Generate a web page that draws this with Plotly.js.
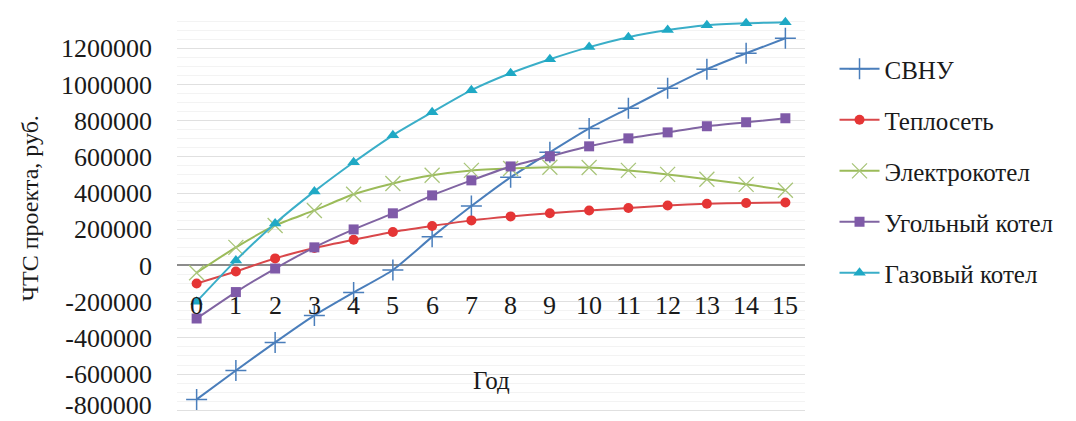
<!DOCTYPE html>
<html>
<head>
<meta charset="utf-8">
<script src="https://cdn.plot.ly/plotly-3.0.1.min.js"></script>
<style>
  html, body { margin: 0; padding: 0; background: #ffffff; }
  #chart { width: 1076px; height: 421px; }
</style>
</head>
<body>
<div id="chart"></div>
<script>
// ---- Data ----
var years = [0, 1, 2, 3, 4, 5, 6, 7, 8, 9, 10, 11, 12, 13, 14, 15];

var svnu      = [-740000, -580000, -425000, -276000, -149000, -25000, 158000, 328000, 487000, 625000, 757000, 868000, 979000, 1084000, 1172000, 1255000];
var teploset  = [-100000, -33000, 39000, 96000, 142000, 185000, 218000, 249000, 271000, 288000, 304000, 317000, 331000, 341000, 345000, 348000];
var elektro   = [-40000, 100000, 221000, 304000, 393000, 453000, 498000, 525000, 536000, 542000, 541000, 525000, 503000, 476000, 448000, 415000];
var ugol      = [-293000, -147000, -17000, 100000, 199000, 288000, 387000, 470000, 547000, 603000, 658000, 702000, 735000, 769000, 791000, 813000];
var gaz       = [-200000, 28000, 232000, 409000, 570000, 719000, 846000, 968000, 1062000, 1139000, 1206000, 1261000, 1300000, 1327000, 1338000, 1344000];

var seriesNames = ["СВНУ", "Теплосеть", "Электрокотел", "Угольный котел", "Газовый котел"];

var yTickVals = [-800000, -600000, -400000, -200000, 0, 200000, 400000, 600000, 800000, 1000000, 1200000];
var yTickText = ["-800000", "-600000", "-400000", "-200000", "0", "200000", "400000", "600000", "800000", "1000000", "1200000"];
var xTickText = ["0", "1", "2", "3", "4", "5", "6", "7", "8", "9", "10", "11", "12", "13", "14", "15"];

var xAxisTitle = "Год";
var yAxisTitle = "ЧТС проекта, руб.";

// ---- Styling ----
var FONT = "Liberation Serif, Times New Roman, serif";
var TICKFONT = {family: FONT, size: 26, color: "#1a1a1a"};
var lineShape = {shape: "spline", smoothing: 0.6, width: 2};

function mkTrace(y, name, color, marker, idx) {
  return {
    x: years, y: y, name: name, type: "scatter", mode: "lines+markers",
    line: Object.assign({color: color}, lineShape),
    marker: marker,
    legendgroup: "g" + idx,
    cliponaxis: false
  };
}

var traces = [
  mkTrace(svnu, seriesNames[0], "#4a7ebb",
    {symbol: "cross-thin", size: 15, color: "#4a7ebb", line: {color: "#4a7ebb", width: 1.5}}, 0),
  mkTrace(teploset, seriesNames[1], "#d9474a",
    {symbol: "circle", size: 10, color: "#e53535", line: {width: 0}}, 1),
  mkTrace(elektro, seriesNames[2], "#9bbb59",
    {symbol: "x-thin", size: 15, color: "#9bbb59", line: {color: "#a9c57a", width: 1.3}}, 2),
  mkTrace(ugol, seriesNames[3], "#8064a2",
    {symbol: "square", size: 10, color: "#7f5aa8", line: {width: 0}}, 3),
  mkTrace(gaz, seriesNames[4], "#3aaec8",
    {symbol: "triangle-up", size: 11, color: "#1fa9c5", line: {width: 0}}, 4)
];

// The bottom y tick label sits on the lower edge; Plotly would drop it, so it
// is drawn as an annotation, while the axis keeps its other labels.
var axisTickText = yTickText.map(function (t, k) { return k === 0 ? "" : t; });

var annotations = [];
for (var i = 0; i < years.length; i++) {
  annotations.push({
    x: years[i], y: -221000, xref: "x", yref: "y",
    text: xTickText[i], showarrow: false,
    xanchor: "center", yanchor: "middle",
    font: TICKFONT
  });
}
annotations.push({
  x: -0.0385, y: yTickVals[0], xref: "paper", yref: "y",
  text: yTickText[0], showarrow: false,
  xanchor: "right", yanchor: "middle", yshift: 5, borderpad: 0,
  font: TICKFONT
});
annotations.push({
  x: 0.5, y: -636000, xref: "paper", yref: "y",
  text: xAxisTitle, showarrow: false, xanchor: "center", yanchor: "middle",
  font: {family: FONT, size: 25, color: "#1a1a1a"}
});
annotations.push({
  x: -0.234, y: 0.51, xref: "paper", yref: "paper",
  text: yAxisTitle, showarrow: false, textangle: -90,
  xanchor: "center", yanchor: "middle",
  font: {family: FONT, size: 24, color: "#1a1a1a"}
});

var layout = {
  width: 1076, height: 421,
  margin: {l: 177, r: 271, t: 12, b: 8, pad: 0},
  paper_bgcolor: "#ffffff", plot_bgcolor: "#ffffff",
  showlegend: true,
  legend: {
    x: 1.047, xanchor: "left", y: 0.915, yanchor: "top",
    font: {family: FONT, size: 25, color: "#1a1a1a"},
    tracegroupgap: 15.5, itemwidth: 40,
    bgcolor: "rgba(0,0,0,0)"
  },
  xaxis: {
    range: [-0.5, 15.5], showticklabels: false, showgrid: false,
    zeroline: false, showline: false, ticks: "", fixedrange: true
  },
  yaxis: {
    range: [-815000, 1400000],
    tickvals: yTickVals, ticktext: axisTickText,
    tickfont: TICKFONT,
    ticklabelstandoff: 24,
    showgrid: true, gridcolor: "#e0e0e0", gridwidth: 1,
    minor: {dtick: 50000, tick0: 0, showgrid: true, gridcolor: "#f3f3f3", gridwidth: 1, ticks: ""},
    zeroline: true, zerolinecolor: "#8c8c8c", zerolinewidth: 2,
    showline: false, ticks: "", fixedrange: true
  },
  annotations: annotations
};

Plotly.newPlot("chart", traces, layout, {displayModeBar: false, staticPlot: true});
</script>
</body>
</html>
